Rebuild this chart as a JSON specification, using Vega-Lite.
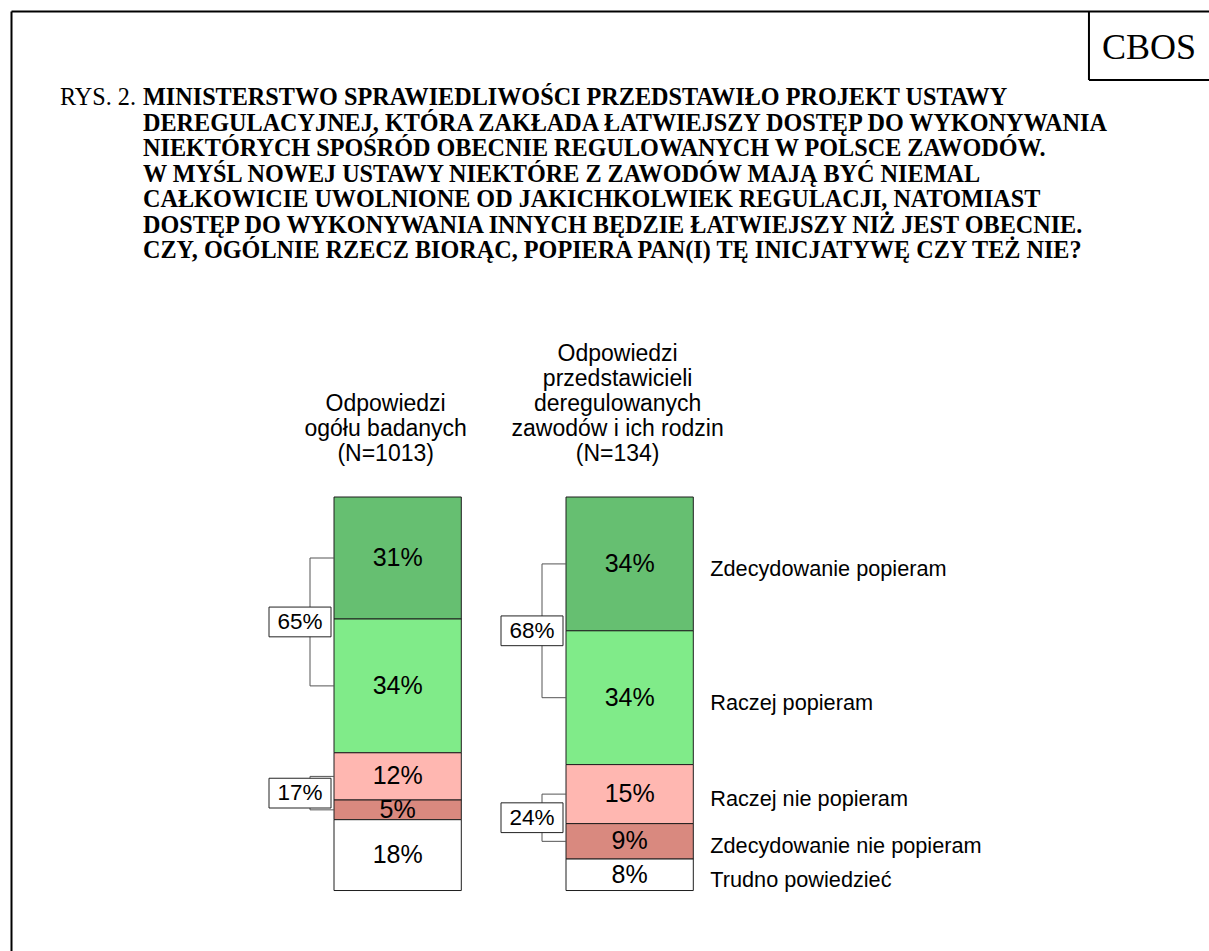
{
  "$schema": "https://vega.github.io/schema/vega-lite/v6.json",
  "width": 1198,
  "height": 940,
  "autosize": {"type": "none"},
  "padding": {"left": 11, "top": 11, "right": 0, "bottom": 0},
  "background": "white",
  "config": {"view": {"stroke": null}, "font": "Liberation Sans", "text": {"font": "Liberation Sans"}},
  "datasets": {
    "odpowiedzi": [
      {"grupa": "ogół", "odpowiedz": "Zdecydowanie popieram", "kolejnosc": 1, "strona": "popiera", "wartosc": 31},
      {"grupa": "ogół", "odpowiedz": "Raczej popieram", "kolejnosc": 2, "strona": "popiera", "wartosc": 34},
      {"grupa": "ogół", "odpowiedz": "Raczej nie popieram", "kolejnosc": 3, "strona": "nie popiera", "wartosc": 12},
      {"grupa": "ogół", "odpowiedz": "Zdecydowanie nie popieram", "kolejnosc": 4, "strona": "nie popiera", "wartosc": 5},
      {"grupa": "ogół", "odpowiedz": "Trudno powiedzieć", "kolejnosc": 5, "strona": null, "wartosc": 18},
      {"grupa": "zawody", "odpowiedz": "Zdecydowanie popieram", "kolejnosc": 1, "strona": "popiera", "wartosc": 34},
      {"grupa": "zawody", "odpowiedz": "Raczej popieram", "kolejnosc": 2, "strona": "popiera", "wartosc": 34},
      {"grupa": "zawody", "odpowiedz": "Raczej nie popieram", "kolejnosc": 3, "strona": "nie popiera", "wartosc": 15},
      {"grupa": "zawody", "odpowiedz": "Zdecydowanie nie popieram", "kolejnosc": 4, "strona": "nie popiera", "wartosc": 9},
      {"grupa": "zawody", "odpowiedz": "Trudno powiedzieć", "kolejnosc": 5, "strona": null, "wartosc": 8}
    ],
    "grupy": [
      {"grupa": "ogół", "naglowek": "Odpowiedzi\nogółu badanych\n(N=1013)"},
      {"grupa": "zawody", "naglowek": "Odpowiedzi\nprzedstawicieli\nderegulowanych\nzawodów i ich rodzin\n(N=134)"}
    ],
    "opis": [
      {"element": "rys", "tekst": "RYS. 2."},
      {"element": "tytul", "tekst": "MINISTERSTWO SPRAWIEDLIWOŚCI PRZEDSTAWIŁO PROJEKT USTAWY\nDEREGULACYJNEJ, KTÓRA ZAKŁADA ŁATWIEJSZY DOSTĘP DO WYKONYWANIA\nNIEKTÓRYCH SPOŚRÓD OBECNIE REGULOWANYCH W POLSCE ZAWODÓW.\nW MYŚL NOWEJ USTAWY NIEKTÓRE Z ZAWODÓW MAJĄ BYĆ NIEMAL\nCAŁKOWICIE UWOLNIONE OD JAKICHKOLWIEK REGULACJI, NATOMIAST\nDOSTĘP DO WYKONYWANIA INNYCH BĘDZIE ŁATWIEJSZY NIŻ JEST OBECNIE.\nCZY, OGÓLNIE RZECZ BIORĄC, POPIERA PAN(I) TĘ INICJATYWĘ CZY TEŻ NIE?"},
      {"element": "cbos", "tekst": "CBOS"}
    ]
  },
  "layer": [
    {
      "layer": [
        {
          "data": {"name": "odpowiedzi"},
          "transform": [
            {"stack": "wartosc", "groupby": ["grupa"], "sort": [{"field": "kolejnosc", "order": "ascending"}], "as": ["y0", "y1"]}
          ],
          "mark": {"type": "bar", "stroke": "#1e1e1e", "strokeWidth": 1},
          "encoding": {
            "x": {"field": "grupa", "type": "nominal", "title": null,
                  "scale": {"domain": ["ogół", "zawody"], "range": [323, 682.3], "paddingInner": 0.4513, "paddingOuter": 0},
                  "axis": null},
            "y": {"field": "y0", "type": "quantitative", "title": null,
                  "scale": {"domain": [-123.51, 115.37], "reverse": true, "nice": false, "zero": false},
                  "axis": {"orient": "left", "domain": true, "domainColor": "black", "domainWidth": 2, "ticks": false, "labels": false, "grid": false, "title": null}},
            "y2": {"field": "y1"},
            "fill": {"field": "odpowiedz", "type": "nominal",
                     "scale": {"domain": ["Zdecydowanie popieram", "Raczej popieram", "Raczej nie popieram", "Zdecydowanie nie popieram", "Trudno powiedzieć"],
                               "range": ["#66BF71", "#80EB89", "#FFB7B1", "#D9897F", "#FFFFFF"]},
                     "legend": null}
          }
        },
        {
          "data": {"name": "odpowiedzi"},
          "transform": [
            {"stack": "wartosc", "groupby": ["grupa"], "sort": [{"field": "kolejnosc", "order": "ascending"}], "as": ["y0", "y1"]},
            {"calculate": "(datum.y0 + datum.y1) / 2", "as": "srodek"},
            {"calculate": "datum.wartosc + '%'", "as": "etykieta"}
          ],
          "mark": {"type": "text", "fontSize": 25, "baseline": "middle", "align": "center", "color": "black"},
          "encoding": {
            "x": {"field": "grupa", "type": "nominal", "title": null},
            "y": {"field": "srodek", "type": "quantitative", "title": null},
            "text": {"field": "etykieta"}
          }
        },
        {
          "data": {"name": "odpowiedzi"},
          "transform": [
            {"stack": "wartosc", "groupby": ["grupa"], "sort": [{"field": "kolejnosc", "order": "ascending"}], "as": ["y0", "y1"]},
            {"calculate": "(datum.y0 + datum.y1) / 2", "as": "srodek"},
            {"filter": "datum.grupa == 'zawody'"}
          ],
          "mark": {"type": "text", "fontSize": 21.7, "baseline": "middle", "align": "left", "dx": 17, "dy": 5, "color": "black"},
          "encoding": {
            "x": {"field": "grupa", "type": "nominal", "bandPosition": 1, "title": null},
            "y": {"field": "srodek", "type": "quantitative", "title": null},
            "text": {"field": "odpowiedz"}
          }
        },
        {
          "data": {"name": "odpowiedzi"},
          "transform": [
            {"stack": "wartosc", "groupby": ["grupa"], "sort": [{"field": "kolejnosc", "order": "ascending"}], "as": ["y0", "y1"]},
            {"calculate": "(datum.y0 + datum.y1) / 2", "as": "srodek"},
            {"filter": "isValid(datum.strona)"},
            {"aggregate": [{"op": "min", "field": "srodek", "as": "od"}, {"op": "max", "field": "srodek", "as": "do"}, {"op": "sum", "field": "wartosc", "as": "suma"}], "groupby": ["grupa", "strona"]},
            {"calculate": "(datum.od + datum.do) / 2", "as": "polowa"},
            {"calculate": "datum.suma + '%'", "as": "etykieta"}
          ],
          "layer": [
            {
              "mark": {"type": "rule", "color": "#555555", "strokeWidth": 1, "xOffset": -24},
              "encoding": {
                "x": {"field": "grupa", "type": "nominal", "bandPosition": 0, "title": null},
                "y": {"field": "od", "type": "quantitative", "title": null},
                "y2": {"field": "do"}
              }
            },
            {
              "mark": {"type": "point", "shape": "M-1,0L1,0", "size": 576, "filled": false, "color": "#555555", "strokeWidth": 1, "opacity": 1, "xOffset": -12},
              "encoding": {
                "x": {"field": "grupa", "type": "nominal", "bandPosition": 0, "title": null},
                "y": {"field": "od", "type": "quantitative", "title": null}
              }
            },
            {
              "mark": {"type": "point", "shape": "M-1,0L1,0", "size": 576, "filled": false, "color": "#555555", "strokeWidth": 1, "opacity": 1, "xOffset": -12},
              "encoding": {
                "x": {"field": "grupa", "type": "nominal", "bandPosition": 0, "title": null},
                "y": {"field": "do", "type": "quantitative", "title": null}
              }
            },
            {
              "mark": {"type": "point", "shape": "M-1,-0.48L1,-0.48L1,0.48L-1,0.48Z", "size": 3844, "filled": true, "fill": "white", "stroke": "#222222", "strokeWidth": 1, "opacity": 1, "xOffset": -34},
              "encoding": {
                "x": {"field": "grupa", "type": "nominal", "bandPosition": 0, "title": null},
                "y": {"field": "polowa", "type": "quantitative", "title": null}
              }
            },
            {
              "mark": {"type": "text", "fontSize": 22.5, "baseline": "middle", "align": "center", "dx": -34, "color": "black"},
              "encoding": {
                "x": {"field": "grupa", "type": "nominal", "bandPosition": 0, "title": null},
                "y": {"field": "polowa", "type": "quantitative", "title": null},
                "text": {"field": "etykieta"}
              }
            }
          ]
        },
        {
          "data": {"name": "grupy"},
          "transform": [
            {"calculate": "reverse(split(datum.naglowek, '\\n'))", "as": "wiersze"}
          ],
          "mark": {"type": "text", "fontSize": 23, "lineHeight": -25, "baseline": "alphabetic", "align": "center", "dx": -12, "dy": -36, "color": "black"},
          "encoding": {
            "x": {"field": "grupa", "type": "nominal", "title": null},
            "y": {"datum": 0, "type": "quantitative", "title": null},
            "text": {"field": "wiersze"}
          }
        }
      ]
    },
    {
      "data": {"name": "opis"},
      "layer": [
        {
          "transform": [{"filter": "datum.element == 'rys'"}],
          "mark": {"type": "text", "font": "Liberation Serif", "fontSize": 24.2, "align": "left", "baseline": "alphabetic", "color": "black"},
          "encoding": {
            "x": {"datum": 0.0409, "type": "quantitative", "scale": {"domain": [0, 1], "nice": false, "zero": false},
                  "axis": {"orient": "top", "domain": true, "domainColor": "black", "domainWidth": 2, "ticks": false, "labels": false, "grid": false, "title": null}},
            "y": {"datum": 0.1, "type": "quantitative", "scale": {"domain": [0, 1], "reverse": true, "nice": false, "zero": false}, "axis": null},
            "text": {"field": "tekst"}
          }
        },
        {
          "transform": [{"filter": "datum.element == 'tytul'"}],
          "mark": {"type": "text", "font": "Liberation Serif", "fontWeight": "bold", "fontSize": 24.2, "lineHeight": 25.5, "lineBreak": "\n", "align": "left", "baseline": "alphabetic", "color": "black"},
          "encoding": {
            "x": {"datum": 0.1102, "type": "quantitative"},
            "y": {"datum": 0.1, "type": "quantitative"},
            "text": {"field": "tekst"}
          }
        },
        {
          "transform": [{"filter": "datum.element == 'cbos'"}],
          "mark": {"type": "text", "font": "Liberation Serif", "fontSize": 36, "align": "center", "baseline": "alphabetic", "color": "black"},
          "encoding": {
            "x": {"datum": 0.9499, "type": "quantitative"},
            "y": {"datum": 0.0515, "type": "quantitative"},
            "text": {"field": "tekst"}
          }
        },
        {
          "transform": [{"filter": "datum.element == 'cbos'"}],
          "mark": {"type": "rule", "color": "black", "strokeWidth": 2},
          "encoding": {
            "x": {"datum": 0.8998, "type": "quantitative"},
            "y": {"datum": 0, "type": "quantitative"},
            "y2": {"datum": 0.0734}
          }
        },
        {
          "transform": [{"filter": "datum.element == 'cbos'"}],
          "mark": {"type": "rule", "color": "black", "strokeWidth": 2},
          "encoding": {
            "x": {"datum": 0.8998, "type": "quantitative"},
            "x2": {"datum": 1},
            "y": {"datum": 0.0734, "type": "quantitative"}
          }
        }
      ]
    }
  ],
  "resolve": {"scale": {"x": "independent", "y": "independent"}}
}
